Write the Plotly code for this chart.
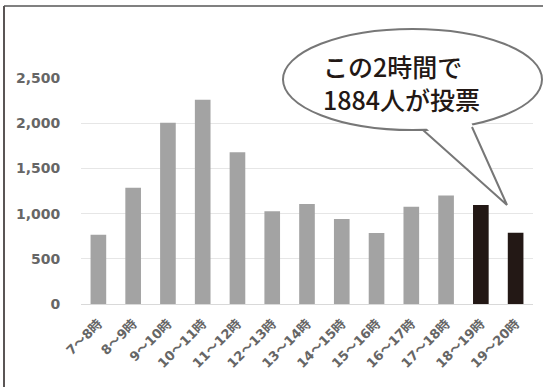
import plotly.graph_objects as go

categories = ["7～8時", "8～9時", "9～10時", "10～11時", "11～12時", "12～13時",
              "13～14時", "14～15時", "15～16時", "16～17時", "17～18時",
              "18～19時", "19～20時"]
voters = [765, 1285, 2005, 2260, 1680, 1025, 1105, 940, 785, 1075, 1200, 1095, 789]
highlight = [False] * 11 + [True, True]
y_ticks = [0, 500, 1000, 1500, 2000, 2500]
y_tick_labels = ["0", "500", "1,000", "1,500", "2,000", "2,500"]
callout_lines = ["この2時間で", "1884人が投票"]

W, H = 543, 387
L, R, T, B = 81, 10, 78, 83
PW, PH = W - L - R, H - T - B


def px(x):
    return (x - L) / PW


def py(y):
    return (H - B - y) / PH


bar_colors = ["#231815" if h else "#a3a3a3" for h in highlight]

fig = go.Figure()
fig.add_trace(go.Bar(x=categories, y=voters, marker=dict(color=bar_colors, line=dict(width=0)),
                     hoverinfo="x+y"))

tick_font = dict(family="DejaVu Sans, Noto Sans CJK JP", size=14, color="#666666", weight="bold")

fig.update_layout(
    width=W, height=H,
    margin=dict(l=L, r=R, t=T, b=B),
    paper_bgcolor="white", plot_bgcolor="white",
    bargap=0.55,
    showlegend=False,
    xaxis=dict(
        tickangle=-45,
        tickfont=dict(family="DejaVu Sans, Noto Sans CJK JP", size=13, color="#666666", weight="bold"),
        showgrid=False,
        showline=True, linecolor="#d9d9d9", linewidth=1,
        ticks="outside", ticklen=6, tickcolor="rgba(0,0,0,0)",
    ),
    yaxis=dict(
        range=[0, 2500],
        tickvals=y_ticks, ticktext=y_tick_labels,
        tickfont=tick_font,
        showgrid=True, gridcolor="#e6e6e6", gridwidth=1,
        zeroline=False, showline=False,
        ticks="outside", ticklen=17, tickcolor="rgba(0,0,0,0)",
    ),
)

shapes = []
# outer frame (top and left visible)
shapes.append(dict(type="line", xref="paper", yref="paper", x0=px(4), x1=px(545), y0=py(6), y1=py(6),
                   line=dict(color="#808080", width=2)))
shapes.append(dict(type="line", xref="paper", yref="paper", x0=px(4), x1=px(4), y0=py(6), y1=py(390),
                   line=dict(color="#5a5555", width=2)))
# callout ellipse
shapes.append(dict(type="circle", xref="paper", yref="paper",
                   x0=px(283), x1=px(542), y0=py(130), y1=py(29),
                   fillcolor="white", line=dict(color="#777777", width=2)))
# tail fill (covers ellipse border)
shapes.append(dict(type="path", xref="paper", yref="paper",
                   path=f"M {px(424)} {py(126)} L {px(507)} {py(205)} L {px(471)} {py(122)} Z",
                   fillcolor="white", line=dict(width=0)))
shapes.append(dict(type="path", xref="paper", yref="paper",
                   path=f"M {px(423)} {py(130)} L {px(507)} {py(205)} L {px(472)} {py(127)}",
                   line=dict(color="#777777", width=2)))
fig.update_layout(shapes=shapes)

fig.add_annotation(xref="paper", yref="paper", x=px(321), y=py(82), xanchor="left", yanchor="middle",
                   align="left", text="<br>".join(callout_lines), showarrow=False,
                   font=dict(family="Noto Sans CJK JP", size=25, color="#231815", weight=500))

fig.write_html("out.html")
